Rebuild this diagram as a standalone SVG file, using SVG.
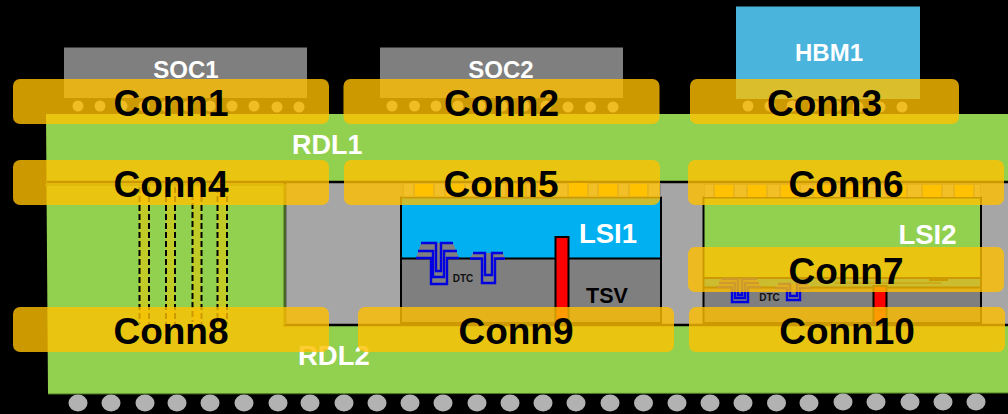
<svg xmlns="http://www.w3.org/2000/svg" width="1008" height="414" viewBox="0 0 1008 414">
<defs><style>
text{font-family:"Liberation Sans",Arial,sans-serif;font-weight:700}
.w{fill:#fff}
.c{fill:#ffc000;fill-opacity:.8}
.t{fill:#000;font-size:37px;text-anchor:middle}
.b{fill:#b2b2b2}
.p{fill:#ffc000}
.q{fill:#bdbdbd}
.tr{fill:none;stroke:#0000e0;stroke-width:2.400}
.d{stroke:#000;stroke-width:2;stroke-dasharray:6 3;fill:none}
.f{fill:#c0cb28}
.m{text-anchor:middle}
</style></defs>
<rect width="1008" height="414" fill="#000"/>
<g id="soc1"><rect x="64" y="47.500" width="243" height="50.500" fill="#7f7f7f"/><text class="w m" x="186" y="78" font-size="24">SOC1</text>
<g class="b"><circle cx="78" cy="106" r="5.500"/><circle cx="100" cy="106" r="5.500"/><circle cx="122" cy="106" r="5.500"/><circle cx="144" cy="106" r="5.500"/><circle cx="166" cy="106" r="5.500"/><circle cx="188" cy="106" r="5.500"/><circle cx="210" cy="106" r="5.500"/><circle cx="232" cy="106" r="5.500"/><circle cx="254" cy="106" r="5.500"/><circle cx="277" cy="107" r="5.500"/><circle cx="299" cy="107" r="5.500"/></g></g>
<g id="soc2"><rect x="380" y="47.500" width="243" height="50.500" fill="#7f7f7f"/><text class="w m" x="501" y="78" font-size="24">SOC2</text>
<g class="b"><circle cx="392" cy="106" r="5.500"/><circle cx="414.500" cy="106" r="5.500"/><circle cx="436" cy="106" r="5.500"/><circle cx="458" cy="106" r="5.500"/><circle cx="480" cy="106" r="5.500"/><circle cx="502" cy="106" r="5.500"/><circle cx="524" cy="106" r="5.500"/><circle cx="546" cy="106" r="5.500"/><circle cx="568" cy="107" r="5.500"/><circle cx="590.500" cy="107" r="5.500"/><circle cx="613" cy="107" r="5.500"/></g></g>
<g id="hbm1"><rect x="736" y="6.500" width="184" height="92.500" fill="#4bb4dc"/><text class="w m" x="829" y="61" font-size="24">HBM1</text>
<g class="b"><circle cx="748" cy="106" r="5.500"/><circle cx="770" cy="106" r="5.500"/><circle cx="792" cy="106" r="5.500"/><circle cx="814" cy="106" r="5.500"/><circle cx="836" cy="106" r="5.500"/><circle cx="858" cy="107" r="5.500"/><circle cx="880" cy="107" r="5.500"/><circle cx="902" cy="107" r="5.500"/></g></g>
<g id="rdl"><path d="M46 114H1008V393L48 394Z" fill="#92d050"/>
<path d="M48 394L1008 393" stroke="#4d7a22" stroke-width="1"/>
<rect x="285" y="182" width="730" height="143" fill="#a6a6a6" stroke="#000" stroke-width="2.500"/>
<path d="M47 182H285" stroke="#000" stroke-width="2.500"/>
<path d="M45 185H285V325" fill="none" stroke="#5f8a2e" stroke-width="1.500"/>
<text class="w" x="292" y="154" font-size="27">RDL1</text><text class="w" x="298" y="365" font-size="27.500">RDL2</text></g>
<g id="tsv-array"><rect class="f" x="139" y="187" width="10" height="137"/><rect class="f" x="166" y="187" width="9" height="137"/><rect class="f" x="192" y="187" width="9" height="137"/><rect class="f" x="217" y="187" width="10" height="137"/>
<path class="d" d="M139.500 187V324M149 187V324M166 187V324M175 187V324M192.500 185V322M201.500 187V324M217.500 187V324M227 187V324"/></g>
<g id="lsi1"><rect x="401" y="197.500" width="260" height="61" fill="#00b0f0"/><rect x="401" y="258.500" width="260" height="64.500" fill="#7f7f7f"/>
<path d="M401 197.500H661V323H401ZM401 258.500H661" fill="none" stroke="#000" stroke-width="2"/>
<path d="M421 243H453L459 258H447V284H431V258H416Z" fill="#808080"/><path d="M473 253H503L505 258H495V283H482V258H470Z" fill="#808080"/>
<path class="tr" d="M421 243H436V271H441V243H453M418 251H433V277H444V251H457M416 258H431V284H447V258H459M473 253H485V275H492V253H503M470 258.500H482V283H495V258.500H505"/>
<rect x="555.500" y="237" width="13" height="85.500" fill="#f00" stroke="#000" stroke-width="2"/>
<text class="w m" x="608" y="243" font-size="27.500">LSI1</text><text class="m" x="463" y="282" font-size="10" fill="#111">DTC</text><text class="m" x="607" y="302.500" font-size="21.500" fill="#000">TSV</text></g>
<g id="lsi2"><rect x="703.500" y="197.500" width="277.500" height="81" fill="#92d050"/><rect x="703.500" y="278" width="277.500" height="9.500" fill="#00b0f0"/><rect x="703.500" y="287.500" width="277.500" height="35.500" fill="#7f7f7f"/>
<path d="M703.500 197.500H981V323H703.500ZM703.500 278H981M703.500 287.500H981" fill="none" stroke="#000" stroke-width="2"/>
<path d="M721 279H757L761 287H748V302H732V287H717Z" fill="#808080"/><path d="M778 284H808L811 288H800V300H787V288H775Z" fill="#808080"/>
<path class="tr" d="M721 279H738V295H742V279H757M719 283H735V298H745V283H759M717 287H732V302H748V287H761M778 284H790V296H797V284H808M775 288H787V300H800V288H811"/>
<path d="M835 283H941" stroke="#000" stroke-width="1"/><rect x="929" y="278" width="19" height="3" fill="#000"/>
<rect x="873.500" y="286" width="13" height="36.500" fill="#f00" stroke="#000" stroke-width="2"/>
<text class="w m" x="927.500" y="244" font-size="27.500">LSI2</text><text class="m" x="769.500" y="301" font-size="10" fill="#111">DTC</text></g>
<g id="pads"><rect x="402" y="183" width="259" height="14" fill="#8c8c8c"/><rect x="704" y="184" width="277" height="13" fill="#8c8c8c"/>
<g class="q"><rect x="404" y="184" width="9" height="12"/><rect x="435" y="184" width="9" height="12"/><rect x="466" y="184" width="9" height="12"/><rect x="497" y="184" width="8" height="12"/><rect x="527" y="184" width="9" height="12"/><rect x="557" y="184" width="10" height="12"/><rect x="589" y="184" width="8" height="12"/><rect x="619" y="184" width="9" height="12"/><rect x="649" y="184" width="10" height="12"/>
<rect x="705" y="185" width="8" height="12"/><rect x="735" y="185" width="11" height="12"/><rect x="768" y="185" width="11" height="12"/><rect x="801" y="185" width="11" height="12"/><rect x="834" y="185" width="11" height="12"/><rect x="867" y="185" width="19" height="12"/><rect x="908" y="185" width="13" height="12"/><rect x="943" y="185" width="10" height="12"/><rect x="975" y="185" width="5" height="12"/></g>
<g class="p"><rect x="415" y="184" width="18" height="12"/><rect x="446" y="184" width="18" height="12"/><rect x="477" y="184" width="18" height="12"/><rect x="507" y="184" width="18" height="12"/><rect x="538" y="184" width="17" height="12"/><rect x="569" y="183" width="18" height="13"/><rect x="599" y="184" width="18" height="12"/><rect x="630" y="184" width="17" height="12"/>
<rect x="715" y="185" width="18" height="12"/><rect x="748" y="185" width="18" height="12"/><rect x="781" y="185" width="18" height="12"/><rect x="814" y="185" width="18" height="12"/><rect x="847" y="185" width="18" height="12"/><rect x="888" y="185" width="18" height="12"/><rect x="923" y="185" width="18" height="12"/><rect x="955" y="185" width="18" height="12"/></g></g>
<g id="balls"><g class="b"><ellipse cx="78" cy="403" rx="9.500" ry="8.500"/><ellipse cx="111" cy="403" rx="9.500" ry="8.500"/><ellipse cx="145" cy="403" rx="9.500" ry="8.500"/><ellipse cx="177" cy="403" rx="9.500" ry="8.500"/><ellipse cx="210" cy="403" rx="9.500" ry="8.500"/><ellipse cx="244" cy="403" rx="9.500" ry="8.500"/><ellipse cx="278" cy="403" rx="9.500" ry="8.500"/><ellipse cx="310" cy="403" rx="9.500" ry="8.500"/><ellipse cx="344" cy="403" rx="9.500" ry="8.500"/><ellipse cx="377" cy="403" rx="9.500" ry="8.500"/><ellipse cx="410" cy="403" rx="9.500" ry="8.500"/><ellipse cx="443" cy="403" rx="9.500" ry="8.500"/><ellipse cx="477" cy="403" rx="9.500" ry="8.500"/><ellipse cx="510" cy="403" rx="9.500" ry="8.500"/><ellipse cx="543" cy="403" rx="9.500" ry="8.500"/><ellipse cx="576" cy="403" rx="9.500" ry="8.500"/><ellipse cx="610" cy="403" rx="9.500" ry="8.500"/><ellipse cx="643.500" cy="403" rx="9.500" ry="8.500"/><ellipse cx="677" cy="403" rx="9.500" ry="8.500"/><ellipse cx="710" cy="403" rx="9.500" ry="8.500"/><ellipse cx="743" cy="403" rx="9.500" ry="8.500"/><ellipse cx="776.500" cy="403" rx="9.500" ry="8.500"/><ellipse cx="809" cy="403" rx="9.500" ry="8.500"/><ellipse cx="843" cy="402" rx="9.500" ry="8.500"/><ellipse cx="876" cy="402" rx="9.500" ry="8.500"/><ellipse cx="910" cy="402" rx="9.500" ry="8.500"/><ellipse cx="943" cy="402" rx="9.500" ry="8.500"/><ellipse cx="976" cy="402" rx="9.500" ry="8.500"/></g></g>
<g id="connectors"></g>
<g id="conn1"><rect class="c" x="13" y="79" width="316" height="45" rx="7"/><text class="t" x="171" y="116">Conn1</text></g>
<g id="conn2"><rect class="c" x="343.500" y="79" width="316" height="45" rx="7"/><text class="t" x="501.500" y="116">Conn2</text></g>
<g id="conn3"><rect class="c" x="690" y="79" width="269" height="45" rx="7"/><text class="t" x="824.500" y="116">Conn3</text></g>
<g id="conn4"><rect class="c" x="13" y="160" width="316" height="45" rx="7"/><text class="t" x="171" y="197">Conn4</text></g>
<g id="conn5"><rect class="c" x="344" y="160" width="316" height="45" rx="7"/><text class="t" x="501" y="197">Conn5</text></g>
<g id="conn6"><rect class="c" x="688" y="160" width="316" height="45" rx="7"/><text class="t" x="846" y="197">Conn6</text></g>
<g id="conn7"><rect class="c" x="688" y="247" width="316" height="45" rx="7"/><text class="t" x="846" y="284">Conn7</text></g>
<g id="conn8"><rect class="c" x="13" y="307" width="316" height="45" rx="7"/><text class="t" x="171" y="344">Conn8</text></g>
<g id="conn9"><rect class="c" x="358" y="307" width="316" height="45" rx="7"/><text class="t" x="516" y="344">Conn9</text></g>
<g id="conn10"><rect class="c" x="689" y="307" width="316" height="45" rx="7"/><text class="t" x="847" y="344">Conn10</text></g>
</svg>
